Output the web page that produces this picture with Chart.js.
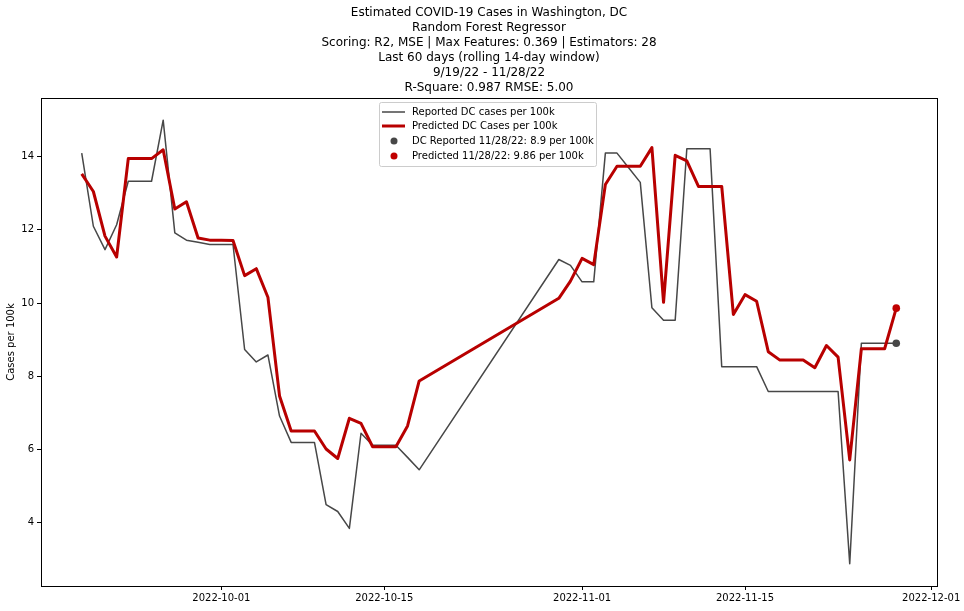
<!DOCTYPE html>
<html>
<head>
<meta charset="utf-8">
<script src="https://cdn.jsdelivr.net/npm/chart.js@4.4.0/dist/chart.umd.min.js"></script>
<style>
  html, body { margin: 0; padding: 0; background: #fff; }
  #wrap { width: 964px; height: 611px; }
</style>
</head>
<body>
<div id="wrap"><canvas id="chart" width="964" height="611"></canvas></div>
<script>
// chart text
const titleLines = [
    'Estimated COVID-19 Cases in Washington, DC',
    'Random Forest Regressor',
    'Scoring: R2, MSE | Max Features: 0.369 | Estimators: 28',
    'Last 60 days (rolling 14-day window)',
    '9/19/22 - 11/28/22',
    'R-Square: 0.987 RMSE: 5.00'
];
const yAxisTitle = 'Cases per 100k';

// data
const dates = [
    '2022-09-19', '2022-09-20', '2022-09-21', '2022-09-22', '2022-09-23', '2022-09-24', '2022-09-25', '2022-09-26', '2022-09-27', '2022-09-28',
    '2022-09-29', '2022-09-30', '2022-10-01', '2022-10-02', '2022-10-03', '2022-10-04', '2022-10-05', '2022-10-06', '2022-10-07', '2022-10-08',
    '2022-10-09', '2022-10-10', '2022-10-11', '2022-10-12', '2022-10-13', '2022-10-14', '2022-10-15', '2022-10-16', '2022-10-17', '2022-10-18',
    '2022-10-30', '2022-10-31', '2022-11-01', '2022-11-02', '2022-11-03', '2022-11-04', '2022-11-05', '2022-11-06', '2022-11-07', '2022-11-08',
    '2022-11-09', '2022-11-10', '2022-11-11', '2022-11-12', '2022-11-13', '2022-11-14', '2022-11-15', '2022-11-16', '2022-11-17', '2022-11-18',
    '2022-11-19', '2022-11-20', '2022-11-21', '2022-11-22', '2022-11-23', '2022-11-24', '2022-11-25', '2022-11-26', '2022-11-27', '2022-11-28'
];
const reported = [
    14.10, 12.10, 11.46, 12.14, 13.33, 13.33, 13.33, 15.00, 11.92, 11.72,
    11.66, 11.60, 11.60, 11.60, 8.73, 8.39, 8.58, 6.91, 6.19, 6.19,
    6.19, 4.49, 4.30, 3.84, 6.44, 6.11, 6.11, 6.11, 5.78, 5.44,
    11.19, 11.03, 10.58, 10.58, 14.10, 14.10, 13.70, 13.30, 9.87, 9.53,
    9.53, 14.22, 14.22, 14.22, 8.26, 8.26, 8.26, 8.26, 7.58, 7.58,
    7.58, 7.58, 7.58, 7.58, 7.58, 2.87, 8.90, 8.90, 8.90, 8.90
];
const predicted = [
    13.53, 13.05, 11.83, 11.26, 13.95, 13.95, 13.95, 14.19, 12.57, 12.77,
    11.78, 11.72, 11.72, 11.71, 10.75, 10.94, 10.16, 7.46, 6.50, 6.50,
    6.50, 6.01, 5.75, 6.85, 6.71, 6.07, 6.07, 6.07, 6.64, 7.87,
    10.13, 10.60, 11.22, 11.05, 13.24, 13.74, 13.74, 13.74, 14.25, 10.02,
    14.04, 13.89, 13.19, 13.19, 13.19, 9.69, 10.23, 10.05, 8.67, 8.44,
    8.44, 8.44, 8.23, 8.84, 8.52, 5.71, 8.75, 8.75, 8.75, 9.86
];
const lastDate = '2022-11-28';
const lastReported = 8.9;
const lastPredicted = 9.86;

const seriesLabels = [
    'Reported DC cases per 100k',
    'Predicted DC Cases per 100k',
    'DC Reported 11/28/22: 8.9 per 100k',
    'Predicted 11/28/22: 9.86 per 100k'
];

// tick labels
const xTickLabels = ['2022-10-01', '2022-10-15', '2022-11-01', '2022-11-15', '2022-12-01'];
const yTicks = [4, 6, 8, 10, 12, 14];

const grayColor = '#474747';
const redColor = '#b80000';
const FONT = '"DejaVu Sans", "Liberation Sans", sans-serif';

function dayNum(s) {
    return Date.parse(s + 'T00:00:00Z') / 86400000;
}
function dayLabel(v) {
    return new Date(Math.round(v) * 86400000).toISOString().slice(0, 10);
}

const reportedPts = dates.map((d, i) => ({ x: dayNum(d), y: reported[i] }));
const predictedPts = dates.map((d, i) => ({ x: dayNum(d), y: predicted[i] }));

// matplotlib style 5% margins
const allY = reported.concat(predicted);
const yLo = Math.min(...allY), yHi = Math.max(...allY);
const xLo = dayNum(dates[0]), xHi = dayNum(dates[dates.length - 1]);
const yPad = (yHi - yLo) * 0.05, xPad = (xHi - xLo) * 0.05;

const titlePlugin = {
    id: 'mplTitle',
    afterDraw(chart) {
        const ctx = chart.ctx;
        const area = chart.chartArea;
        ctx.save();
        ctx.fillStyle = '#000';
        ctx.font = '12px ' + FONT;
        ctx.textAlign = 'center';
        ctx.textBaseline = 'middle';
        const cx = (area.left + area.right) / 2;
        titleLines.forEach((line, i) => ctx.fillText(line, cx, 13 + i * 15));

        // axes frame
        ctx.strokeStyle = '#000';
        ctx.lineWidth = 1;
        ctx.strokeRect(Math.round(area.left) + 0.5, Math.round(area.top) + 0.5,
            Math.round(area.right - area.left), Math.round(area.bottom - area.top));

        // legend box
        const bx = 379.5, by = 102.5, bw = 217, bh = 64;
        ctx.fillStyle = 'rgba(255,255,255,0.8)';
        ctx.strokeStyle = '#cccccc';
        ctx.beginPath();
        ctx.roundRect(bx, by, bw, bh, 2);
        ctx.fill();
        ctx.stroke();

        const rows = [112, 126, 141, 156];
        const ds = chart.data.datasets;
        ctx.font = '10px ' + FONT;
        ctx.textAlign = 'left';
        rows.forEach((ry, i) => {
            const d = ds[i];
            if (i < 2) {
                ctx.strokeStyle = d.borderColor;
                ctx.lineWidth = d.borderWidth;
                ctx.beginPath();
                ctx.moveTo(382, ry);
                ctx.lineTo(405, ry);
                ctx.stroke();
            } else {
                ctx.fillStyle = d.backgroundColor;
                ctx.beginPath();
                ctx.arc(394, ry, 3.5, 0, Math.PI * 2);
                ctx.fill();
            }
            ctx.fillStyle = '#000';
            ctx.fillText(d.label, 412, ry);
        });
        ctx.restore();
    }
};

new Chart(document.getElementById('chart'), {
    type: 'line',
    data: {
        datasets: [
            {
                label: seriesLabels[0],
                data: reportedPts,
                borderColor: grayColor,
                backgroundColor: grayColor,
                borderWidth: 1.5,
                pointRadius: 0,
                tension: 0,
                borderJoinStyle: 'round',
                order: 3
            },
            {
                label: seriesLabels[1],
                data: predictedPts,
                borderColor: redColor,
                backgroundColor: redColor,
                borderWidth: 3,
                pointRadius: 0,
                tension: 0,
                borderJoinStyle: 'round',
                order: 2
            },
            {
                type: 'scatter',
                label: seriesLabels[2],
                data: [{ x: dayNum(lastDate), y: lastReported }],
                backgroundColor: grayColor,
                borderColor: grayColor,
                pointRadius: 3.8,
                borderWidth: 0,
                order: 1
            },
            {
                type: 'scatter',
                label: seriesLabels[3],
                data: [{ x: dayNum(lastDate), y: lastPredicted }],
                backgroundColor: '#c00000',
                borderColor: '#c00000',
                pointRadius: 3.8,
                borderWidth: 0,
                order: 0
            }
        ]
    },
    options: {
        responsive: false,
        animation: false,
        devicePixelRatio: 1,
        layout: { padding: { top: 98, right: 27, left: 0, bottom: 0 } },
        plugins: {
            legend: { display: false },
            title: { display: false },
            tooltip: { enabled: false }
        },
        scales: {
            x: {
                type: 'linear',
                min: xLo - xPad,
                max: xHi + xPad,
                afterBuildTicks: (scale) => {
                    scale.ticks = xTickLabels.map(s => ({ value: dayNum(s) }));
                },
                afterFit: (scale) => { scale.height = 25; },
                ticks: {
                    callback: (v) => dayLabel(v),
                    color: '#000',
                    font: { family: FONT, size: 10 },
                    padding: 2,
                    maxRotation: 0,
                    autoSkip: false
                },
                grid: { drawOnChartArea: false, color: '#000', tickLength: 4 },
                border: { display: false }
            },
            y: {
                min: yLo - yPad,
                max: yHi + yPad,
                afterBuildTicks: (scale) => {
                    scale.ticks = yTicks.map(v => ({ value: v }));
                },
                afterFit: (scale) => { scale.width = 41; },
                ticks: {
                    color: '#000',
                    font: { family: FONT, size: 10 },
                    padding: 3
                },
                grid: { drawOnChartArea: false, color: '#000', tickLength: 4 },
                border: { display: false },
                title: {
                    display: true,
                    text: yAxisTitle,
                    color: '#000',
                    font: { family: FONT, size: 10 },
                    padding: { top: 5, bottom: 0 }
                }
            }
        }
    },
    plugins: [titlePlugin]
});
</script>
</body>
</html>
